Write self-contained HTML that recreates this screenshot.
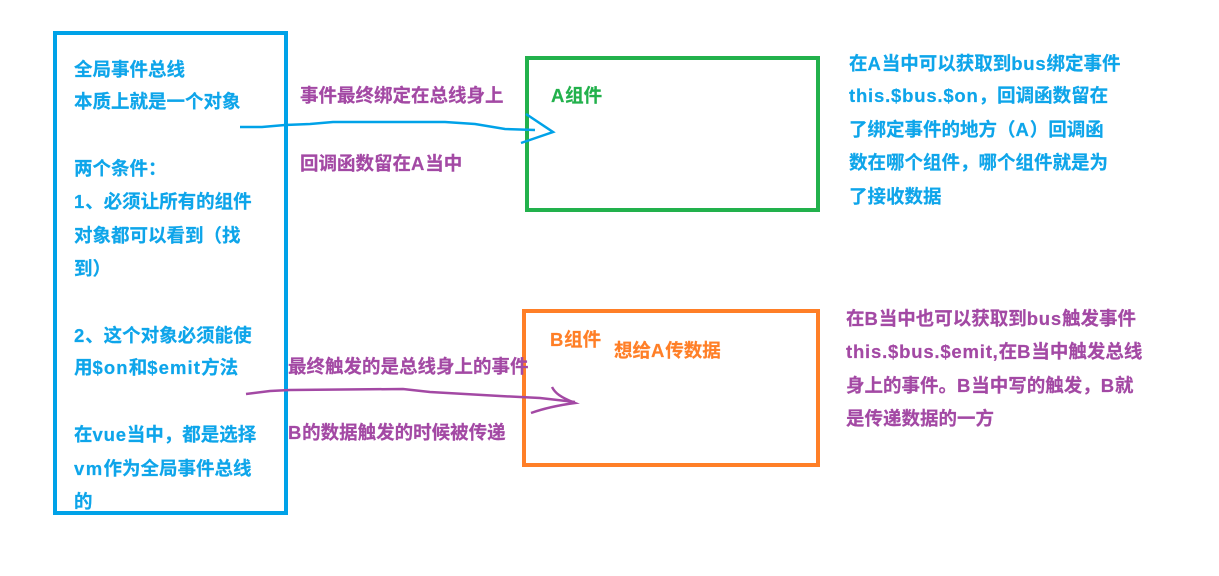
<!DOCTYPE html>
<html>
<head>
<meta charset="utf-8">
<style>
html,body{margin:0;padding:0;background:#fff}
#c{position:relative;width:1219px;height:576px;overflow:hidden;background:#fff;font-family:"Liberation Sans","Noto Sans CJK SC",sans-serif;font-weight:bold;font-size:18.5px;-webkit-text-stroke:.2px currentColor}
#c div.t{position:absolute;white-space:nowrap;line-height:24px;height:24px}
.b{color:#0ea5ea}.p{color:#a349a4}.g{color:#22b14c}.o{color:#ff7f27}
i{font-style:normal;letter-spacing:.8px}
svg{position:absolute;left:0;top:0}
</style>
</head>
<body>
<div id="c">
<svg width="1219" height="576" viewBox="0 0 1219 576" fill="none">
<rect x="55" y="33" width="231" height="480" stroke="#00a2e8" stroke-width="4"/>
<rect x="527" y="58" width="291" height="152" stroke="#22b14c" stroke-width="4"/>
<rect x="524" y="311" width="294" height="154" stroke="#ff7f27" stroke-width="4"/>
<path d="M240 127 L262 127 L285 125 L310 124 L333 122 L390 122 L445 122 L475 124 L505 129 L535 130" stroke="#00a2e8" stroke-width="2.5"/>
<path d="M526 114 L553 132 L521 143" stroke="#00a2e8" stroke-width="2.5"/>
<path d="M246 394 L270 391 L290 390 L403 389 L430 392 L500 396 L540 398 L575 402" stroke="#a349a4" stroke-width="2.5"/>
<path d="M552 387 C555 393 560 397 575 403 C560 405 545 408 531 413" stroke="#a349a4" stroke-width="2.5"/>
</svg>

<div class="t b" style="left:74px;top:58px">全局事件总线</div>
<div class="t b" style="left:74px;top:90px">本质上就是一个对象</div>
<div class="t b" style="left:74px;top:157px">两个条件：</div>
<div class="t b" style="left:74px;top:190px"><i>1</i>、必须让所有的组件</div>
<div class="t b" style="left:74px;top:224px">对象都可以看到（找</div>
<div class="t b" style="left:74px;top:257px">到）</div>
<div class="t b" style="left:74px;top:324px"><i>2</i>、这个对象必须能使</div>
<div class="t b" style="left:74px;top:356px">用<i style="letter-spacing:1.1px">$on</i>和<i style="letter-spacing:1.1px">$emit</i>方法</div>
<div class="t b" style="left:74px;top:423px">在<i>vue</i>当中，都是选择</div>
<div class="t b" style="left:74px;top:457px"><i style="letter-spacing:1.4px">vm</i>作为全局事件总线</div>
<div class="t b" style="left:74px;top:490px">的</div>

<div class="t p" style="left:300px;top:84px">事件最终绑定在总线身上</div>
<div class="t p" style="left:300px;top:152px">回调函数留在<i>A</i>当中</div>
<div class="t p" style="left:288px;top:355px">最终触发的是总线身上的事件</div>
<div class="t p" style="left:288px;top:421px"><i>B</i>的数据触发的时候被传递</div>

<div class="t g" style="left:551px;top:84px"><i>A</i>组件</div>
<div class="t o" style="left:550px;top:328px"><i>B</i>组件</div>
<div class="t o" style="left:614px;top:339px">想给<i>A</i>传数据</div>

<div class="t b" style="left:849px;top:52px">在<i>A</i>当中可以获取到<i>bus</i>绑定事件</div>
<div class="t b" style="left:849px;top:84px"><i>this.$bus.$on</i>，回调函数留在</div>
<div class="t b" style="left:849px;top:118px">了绑定事件的地方（<i>A</i>）回调函</div>
<div class="t b" style="left:849px;top:151px">数在哪个组件，哪个组件就是为</div>
<div class="t b" style="left:849px;top:185px">了接收数据</div>

<div class="t p" style="left:846px;top:307px">在<i>B</i>当中也可以获取到<i>bus</i>触发事件</div>
<div class="t p" style="left:846px;top:340px"><i>this.$bus.$emit,</i>在<i>B</i>当中触发总线</div>
<div class="t p" style="left:846px;top:374px">身上的事件。<i>B</i>当中写的触发，<i>B</i>就</div>
<div class="t p" style="left:846px;top:407px">是传递数据的一方</div>
</div>
</body>
</html>
